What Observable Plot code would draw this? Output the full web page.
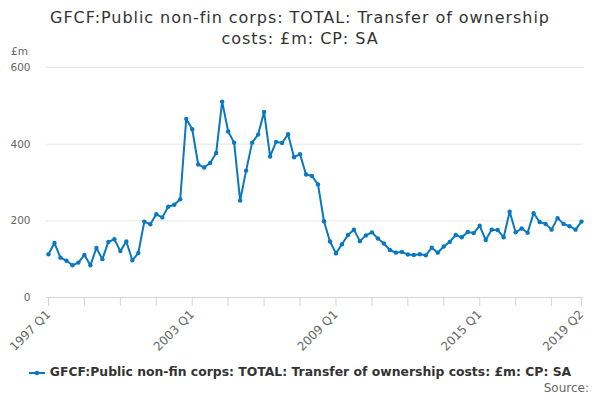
<!DOCTYPE html>
<html>
<head>
<meta charset="utf-8">
<script src="https://cdn.jsdelivr.net/npm/d3@7"></script>
<script src="https://cdn.jsdelivr.net/npm/@observablehq/plot@0.6"></script>
<style>
  body { margin: 0; background: #fff; font-family: "DejaVu Sans", sans-serif; }
  #wrap { position: relative; width: 600px; height: 400px; overflow: hidden; }
  #title { position: absolute; top: 7px; left: 0; width: 600px; text-align: center; font-size: 16px; letter-spacing: 0.95px; line-height: 21px; color: #333; }
  #unit { position: absolute; top: 45px; left: 11px; font-size: 10.5px; color: #666; }
  #chart { position: absolute; top: 45px; left: 0; }
  #legend { position: absolute; top: 364px; left: 0; width: 600px; text-align: center; font-size: 12.4px; font-weight: bold; color: #333; }
  #legend svg { vertical-align: middle; margin-right: 5px; }
  #source { position: absolute; top: 381px; right: 11px; font-size: 12px; color: #666; }
</style>
</head>
<body>
<div id="wrap">
  <div id="title">GFCF:Public non-fin corps: TOTAL: Transfer of ownership<br>costs: £m: CP: SA</div>
  <div id="unit">£m</div>
  <div id="chart"></div>
  <div id="legend"><svg width="16" height="10"><line x1="0" y1="5" x2="16" y2="5" stroke="#0a78c1" stroke-width="2"/><circle cx="8" cy="5" r="2.3" fill="#0a78c1"/></svg>GFCF:Public non-fin corps: TOTAL: Transfer of ownership costs: £m: CP: SA</div>
  <div id="source">Source:</div>
</div>
<script>
const seriesName = "GFCF:Public non-fin corps: TOTAL: Transfer of ownership costs: £m: CP: SA";
const startYear = 1997;
const values = [
  113, 142, 104, 96, 84, 91, 111, 84, 129, 100, 145, 152, 121, 146, 97, 116,
  198, 191, 217, 209, 237, 242, 256, 466, 439, 347, 339, 351, 377, 511, 433, 404,
  253, 331, 404, 425, 484, 368, 406, 403, 426, 366, 374, 321, 317, 295, 199, 146,
  115, 139, 163, 177, 147, 162, 170, 154, 141, 124, 117, 119, 112, 111, 113, 110,
  130, 117, 133, 145, 163, 157, 171, 168, 187, 150, 177, 176, 157, 224, 170, 180,
  169, 220, 197, 192, 177, 207, 192, 186, 177, 198
];
const quarters = values.map((_, i) => `${startYear + Math.floor(i / 4)} Q${(i % 4) + 1}`);
const tickMarks = ["1997 Q1","1998 Q3","2000 Q1","2001 Q3","2003 Q1","2004 Q3","2006 Q1","2007 Q3","2009 Q1","2010 Q3","2012 Q1","2013 Q3","2015 Q1","2016 Q3","2018 Q1","2019 Q2"];
const tickLabels = ["1997 Q1","2003 Q1","2009 Q1","2015 Q1","2019 Q2"];
const yTicks = [0, 200, 400, 600];

const data = quarters.map((q, i) => ({quarter: q, value: values[i]}));
const labelSet = new Set(tickLabels);
const color = "#0a78c1";

const chart = Plot.plot({
  width: 600,
  height: 312,
  marginTop: 22,
  marginLeft: 46,
  marginRight: 17,
  marginBottom: 60,
  style: {fontFamily: "DejaVu Sans, sans-serif", fontSize: "10.5px", color: "#666", background: "transparent"},
  x: {type: "point", domain: quarters, padding: 0.33},
  y: {domain: [0, 600]},
  marks: [
    Plot.gridY(yTicks.filter(d => d > 0), {stroke: "#e6e6e6", strokeOpacity: 1}),
    Plot.axisY(yTicks, {tickSize: 0, tickPadding: 16, label: null, fill: "#666", fontSize: 10.5}),
    Plot.ruleY([0], {stroke: "#ccd6eb", strokeWidth: 1}),
    Plot.axisX(tickMarks, {
      tickSize: 9, stroke: "#ccd6eb", tickRotate: -45, tickPadding: 6,
      tickFormat: d => labelSet.has(d) ? d : "", label: null, fill: "#666", fontSize: 12
    }),
    Plot.line(data, {x: "quarter", y: "value", stroke: color, strokeWidth: 2}),
    Plot.dot(data, {x: "quarter", y: "value", fill: color, r: 2.2})
  ]
});
document.getElementById("chart").appendChild(chart);
</script>
</body>
</html>
